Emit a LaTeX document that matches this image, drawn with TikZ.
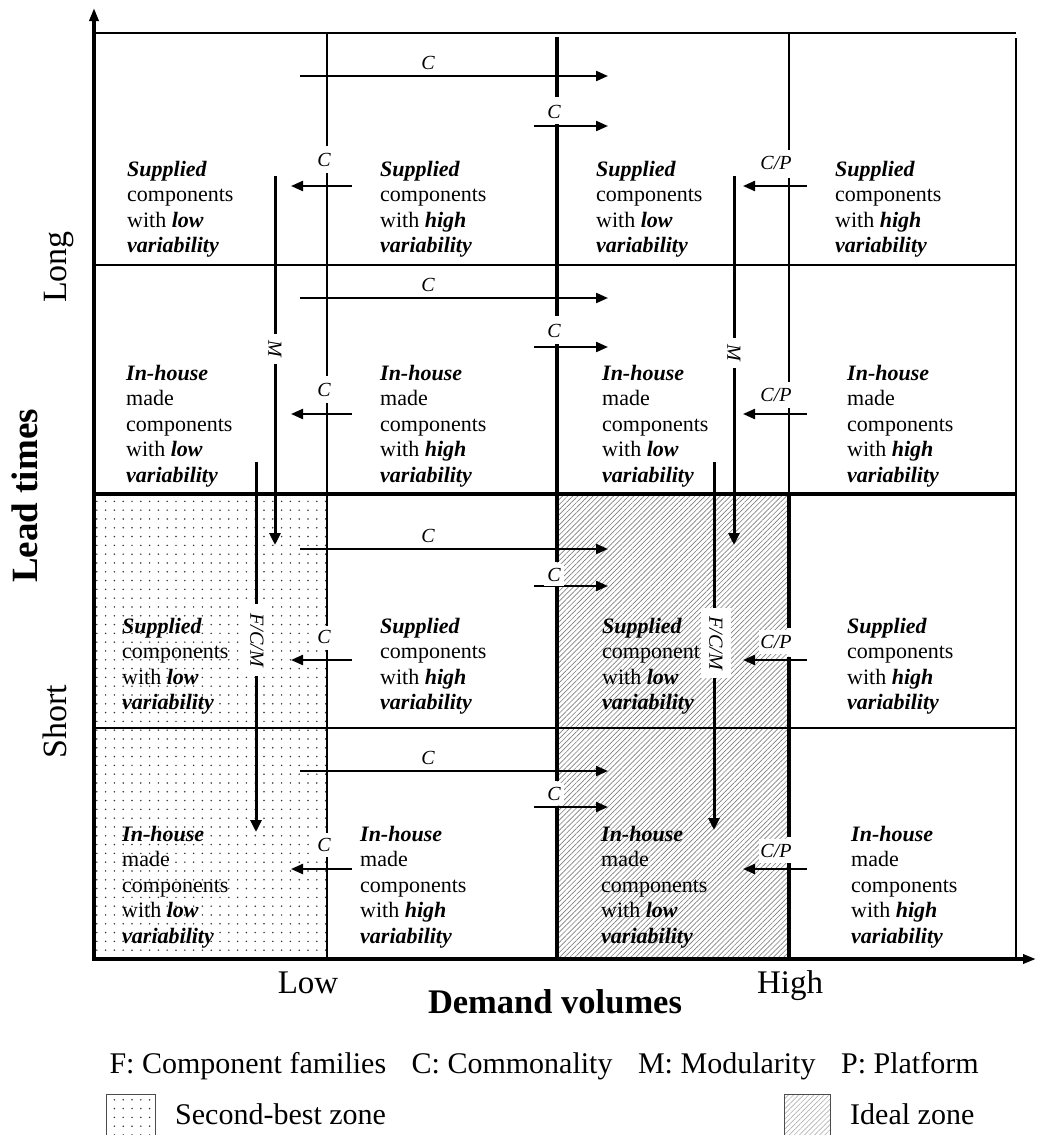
\documentclass[tikz,border=0pt]{standalone}
\usepackage{fontspec}
\setmainfont{Liberation Serif}
\usetikzlibrary{arrows.meta,patterns.meta}
\newcommand\bix[1]{\textbf{\textit{#1}}}
\begin{document}
\begin{tikzpicture}[x=1pt,y=-1pt,
  thinln/.style={line width=1.8pt},
  thickln/.style={line width=3.4pt},
  harrow/.style={line width=2.2pt,-{Triangle[length=12pt,width=10pt]}},
  varrow/.style={line width=3pt,-{Triangle[length=12pt,width=11pt]}},
  cell/.style={anchor=north west,align=left,inner sep=0pt,
    font=\fontsize{22}{25.5}\selectfont,execute at begin node=\strut},
  lab/.style={font=\fontsize{20}{22}\selectfont\itshape,inner sep=2pt,fill=white},
  cplab/.style={lab,inner xsep=1pt,inner ysep=5pt},
  vlab/.style={lab,rotate=-90,inner xsep=7pt,inner ysep=4pt},
  axlab/.style={font=\fontsize{34}{40}\selectfont,inner sep=0pt,anchor=base},
  axbold/.style={font=\fontsize{37}{42}\selectfont\bfseries,inner sep=0pt,anchor=base},
  legtext/.style={font=\fontsize{30}{36}\selectfont,inner sep=0pt},
  dotpat/.style={pattern={Dots[distance=8.8pt,radius=0.85pt]},pattern color=black!80},
  hatchpat/.style={pattern={Lines[angle=45,distance=3.6pt,line width=0.65pt]},pattern color=black!50}
]
\useasboundingbox (0,0) rectangle (1037,1135);
\fill[white] (0,0) rectangle (1037,1135);

% zones
\fill[dotpat] (94,494) rectangle (327,959);
\fill[hatchpat] (557,494) rectangle (789,959);

% grid
\draw[thinln] (94,33) -- (1016,33);
\draw[thinln] (1016,38) -- (1016,959);
\draw[thinln] (94,265) -- (1016,265);
\draw[thickln] (94,494) -- (1016,494);
\draw[thinln] (94,728) -- (1016,728);

% column line x=327
\draw[thinln] (327,33) -- (327,146) (327,173) -- (327,376) (327,403) -- (327,626)
  (327,650) -- (327,833) (327,857) -- (327,959);
% column line x=557
\draw[thickln] (557,37) -- (557,97) (557,124) -- (557,316) (557,344) -- (557,562)
  (557,587) -- (557,781) (557,807) -- (557,959);
% column line x=789
\draw[thinln] (789,33) -- (789,150) (789,178) -- (789,382) (789,408) -- (789,494);
\draw[thickln] (789,494) -- (789,628) (789,657) -- (789,837) (789,860) -- (789,959);

% axes
\coordinate (ytip) at (94,8);
\coordinate (origin) at (94,959);
\coordinate (xtip) at (1036,959);
\draw[line width=3.4pt,line join=miter,{Triangle[length=13pt,width=9pt]}-{Triangle[length=13pt,width=9pt]}]
  (ytip) -- (origin) -- (xtip);

% cell texts
\node[cell] (a1) at (127,161) {\bix{Supplied}\\components\\with \bix{low}\\\bix{variability}};
\node[cell] (b1) at (380,161) {\bix{Supplied}\\components\\with \bix{high}\\\bix{variability}};
\node[cell] (c1) at (596,161) {\bix{Supplied}\\components\\with \bix{low}\\\bix{variability}};
\node[cell] (d1) at (835,161) {\bix{Supplied}\\components\\with \bix{high}\\\bix{variability}};

\node[cell] (a2) at (126,365) {\bix{In-house}\\made\\components\\with \bix{low}\\\bix{variability}};
\node[cell] (b2) at (380,365) {\bix{In-house}\\made\\components\\with \bix{high}\\\bix{variability}};
\node[cell] (c2) at (602,365) {\bix{In-house}\\made\\components\\with \bix{low}\\\bix{variability}};
\node[cell] (d2) at (847,365) {\bix{In-house}\\made\\components\\with \bix{high}\\\bix{variability}};

\node[cell] (a3) at (122,618) {\bix{Supplied}\\components\\with \bix{low}\\\bix{variability}};
\node[cell] (b3) at (380,618) {\bix{Supplied}\\components\\with \bix{high}\\\bix{variability}};
\node[cell] (c3) at (602,618) {\bix{Supplied}\\component\\with \bix{low}\\\bix{variability}};
\node[cell] (d3) at (847,618) {\bix{Supplied}\\components\\with \bix{high}\\\bix{variability}};

\node[cell] (a4) at (122,826) {\bix{In-house}\\made\\components\\with \bix{low}\\\bix{variability}};
\node[cell] (b4) at (360,826) {\bix{In-house}\\made\\components\\with \bix{high}\\\bix{variability}};
\node[cell] (c4) at (601,826) {\bix{In-house}\\made\\components\\with \bix{low}\\\bix{variability}};
\node[cell] (d4) at (851,826) {\bix{In-house}\\made\\components\\with \bix{high}\\\bix{variability}};

% long C arrows
\foreach \i/\y in {1/76,2/298,3/549,4/771}{
  \coordinate (lcs\i) at (300,\y);
  \coordinate (lce\i) at (608,\y);
  \draw[harrow] (lcs\i) -- (lce\i);
  \node[lab] (lcl\i) at (428,\y-13) {C};
}
% short C arrows at x=557
\foreach \i/\y/\ly in {1/126/112,2/347/331,3/586/575,4/807/794}{
  \coordinate (scs\i) at (534,\y);
  \coordinate (sce\i) at (608,\y);
  \draw[harrow] (scs\i) -- (sce\i);
  \node[lab,inner xsep=3.5pt,inner ysep=4.5pt] (scl\i) at (554,\ly) {C};
}
% left C arrows at x=327
\foreach \i/\y/\ly in {1/186/160,2/414/390,3/660/637,4/869/845}{
  \coordinate (lfs\i) at (352,\y);
  \coordinate (lfe\i) at (291,\y);
  \draw[harrow] (lfs\i) -- (lfe\i);
  \node[lab,inner xsep=3pt,inner ysep=4pt] (lfl\i) at (324,\ly) {C};
}
% C/P arrows at x=789
\foreach \i/\y/\ly in {1/186/163,2/414/395,3/660/642,4/869/851}{
  \coordinate (cps\i) at (807,\y);
  \coordinate (cpe\i) at (743,\y);
  \draw[harrow] (cps\i) -- (cpe\i);
  \node[cplab] (cpl\i) at (776,\ly) {C/P};
}

% M arrows
\coordinate (m1s) at (275,176); \coordinate (m1e) at (275,545);
\coordinate (m2s) at (734,176); \coordinate (m2e) at (734,545);
\draw[varrow] (m1s) -- (m1e);
\draw[varrow] (m2s) -- (m2e);
\node[vlab] (m1l) at (275,349) {M};
\node[vlab] (m2l) at (734,353) {M};

% F/C/M arrows
\coordinate (f1s) at (256,462); \coordinate (f1e) at (256,832);
\coordinate (f2s) at (714,462); \coordinate (f2e) at (714,830);
\draw[varrow] (f1s) -- (f1e);
\draw[varrow] (f2s) -- (f2e);
\node[vlab,inner xsep=9pt,inner ysep=6pt] (f1l) at (257,640) {F/C/M};
\node[vlab,inner xsep=8pt,inner ysep=8pt] (f2l) at (716,643) {F/C/M};

% axis labels
\node[axlab,rotate=90] (long) at (66,267) {Long};
\node[axlab,rotate=90] (short) at (66,722) {Short};
\node[axbold,rotate=90] (lead) at (37,496) {Lead times};
\node[axlab,font=\fontsize{33}{40}\selectfont] (low) at (308,993) {Low};
\node[axlab,font=\fontsize{33}{40}\selectfont] (high) at (790,993) {High};
\node[axbold,font=\fontsize{34.5}{40}\selectfont\bfseries] (demand) at (555,1013) {Demand volumes};

% legend
\node[legtext,anchor=base] (legend) at (544,1073)
  {F: Component families\hspace{0.6em} C: Commonality\hspace{0.6em} M: Modularity\hspace{0.6em} P: Platform};
\fill[dotpat] (106,1094) rectangle (155,1140);
\draw[line width=1pt,black!70] (106,1094) rectangle (155,1140);
\node[legtext,anchor=base west] (sbz) at (175,1124) {Second-best zone};
\fill[hatchpat,pattern color=black!30] (784,1094) rectangle (830,1140);
\draw[line width=1pt,black!70] (784,1094) rectangle (830,1140);
\node[legtext,anchor=base west] (idz) at (850,1124) {Ideal zone};
\end{tikzpicture}
\end{document}
